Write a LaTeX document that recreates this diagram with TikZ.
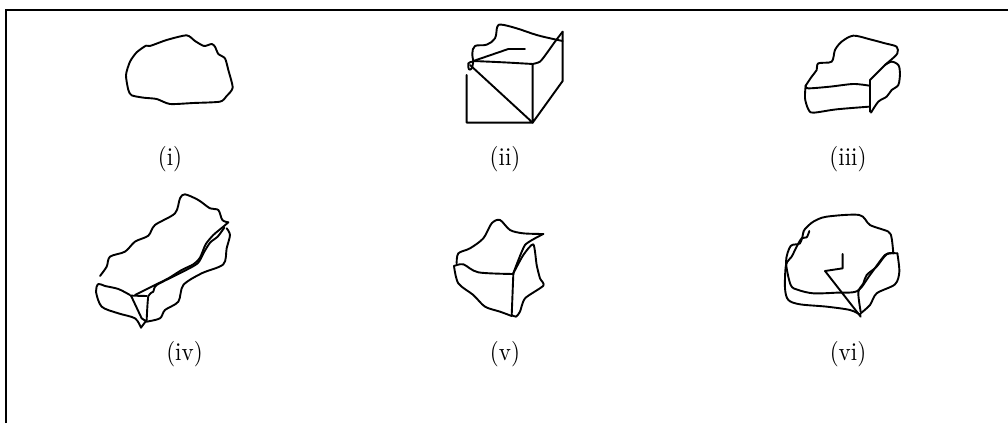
\documentclass[tikz,border=0pt]{standalone}
\begin{document}
\begin{tikzpicture}[x=1pt,y=-1pt,
  ink/.style={line width=1.9pt,line join=round,line cap=round,black},
  caplabel/.style={xscale=2.3,yscale=2.55,inner sep=0pt,anchor=center}]
\useasboundingbox (0,0) rectangle (1008,423);
\draw[line width=2pt] (6,423) -- (6,10) -- (1008,10);
% (i)
\begin{scope}[shift={(100,20)},x=0.3333pt,y=-0.3333pt]
\draw[ink] plot[smooth cycle,tension=0.4] coordinates {(260,46)(285,63)(312,78)(335,72)(345,80)(355,102)(375,115)(385,150)(398,203)(380,228)(360,245)(280,249)(210,252)(170,237)(130,233)(95,226)(85,210)(78,165)(90,125)(110,97)(138,77)(150,78)(200,60)};
\end{scope}
% (ii)
\begin{scope}[shift={(440,20)},x=0.3333pt,y=-0.3333pt]
\draw[ink] (80,165)--(80,308)--(278,308)--(90,135);
\draw[ink] (278,132)--(278,308)--(368,183)--(368,35);
\draw[ink] plot[smooth,tension=0.4] coordinates {(100,123)(190,127)(278,132)};
\draw[ink] (100,123)--(205,87)--(255,87);
\draw[ink] plot[smooth,tension=0.6] coordinates {(100,123)(97,100)(105,78)(140,74)(165,55)(172,20)(185,14)(230,25)(290,45)(340,57)(368,63)};
\draw[ink] plot[smooth,tension=0.6] coordinates {(97,125)(85,130)(87,148)(95,145)(100,125)};
\draw[ink] plot[smooth,tension=0.4] coordinates {(278,132)(300,125)(320,100)(345,65)(368,35)};
\end{scope}
% (iii)
\begin{scope}[shift={(770,20)},x=0.3333pt,y=-0.3333pt]
\draw[ink] plot[smooth,tension=0.5] coordinates {(107,197)(125,170)(140,150)(145,130)(185,125)(195,90)(215,65)(250,47)(300,58)(345,70)(380,80)(382,100)(365,118)(345,135)(300,180)};
\draw[ink] (300,180)--(300,275);
\draw[ink] plot[smooth,tension=0.5] coordinates {(107,197)(115,205)(180,200)(250,192)(298,197)};
\draw[ink] plot[smooth,tension=0.5] coordinates {(107,197)(105,235)(115,268)(130,278)(200,268)(298,260)};
\draw[ink] plot[smooth,tension=0.5] coordinates {(345,135)(365,125)(385,135)(390,160)(385,195)(365,210)(350,230)(325,245)(303,278)};
\end{scope}
% (iv)
\begin{scope}[shift={(85,185)},x=0.3333pt,y=-0.3333pt]
\draw[ink] plot[smooth,tension=0.5] coordinates {(45,273)(65,245)(75,215)(120,200)(150,170)(190,152)(210,120)(270,85)(285,40)(300,28)(340,45)(375,70)(400,75)(412,105)(430,112)};
\draw[ink] plot[smooth,tension=0.4] coordinates {(430,112)(415,125)(385,150)(362,178)(345,218)(325,238)(290,255)(250,280)(200,305)(150,330)};
\draw[ink] plot[smooth,tension=0.4] coordinates {(418,128)(398,155)(376,172)(358,200)(338,235)(290,262)(215,300)(205,320)(190,333)(185,405)};
\draw[ink] plot[smooth,tension=0.5] coordinates {(425,130)(435,150)(425,190)(415,238)(350,265)(295,300)(280,350)(240,375)(225,400)(185,410)};
\draw[ink] plot[smooth,tension=0.5] coordinates {(135,330)(100,312)(60,303)(40,297)(33,320)(50,365)(100,385)(150,400)(168,428)};
\draw[ink] (168,428)--(185,405);
\draw[ink] (138,332)--(185,333);
\draw[ink] (138,332)--(170,400)--(185,410);
\end{scope}
% (v)
\begin{scope}[shift={(430,205)},x=0.3333pt,y=-0.3333pt]
\draw[ink] plot[smooth,tension=0.5] coordinates {(80,175)(85,145)(120,130)(160,100)(185,55)(210,45)(240,75)(280,85)(340,87)};
\draw[ink] plot[smooth,tension=0.3] coordinates {(340,87)(285,120)(250,205)};
\draw[ink] plot[smooth,tension=0.5] coordinates {(72,183)(100,178)(145,202)(250,207)};
\draw[ink] plot[smooth,tension=0.5] coordinates {(72,183)(85,235)(130,270)(165,305)(210,320)(245,333)};
\draw[ink] (250,207)--(245,333);
\draw[ink] plot[smooth,tension=0.4] coordinates {(250,205)(280,150)(310,118)(320,180)(330,220)(340,242)(285,280)(270,320)(258,335)(245,330)};
\end{scope}
% (vi)
\begin{scope}[shift={(770,205)},x=0.3333pt,y=-0.3333pt]
\draw[ink] plot[smooth,tension=0.5] coordinates {(100,82)(105,72)(130,50)(170,35)(268,30)(300,60)(355,80)(365,100)(370,145)};
\draw[ink] plot[smooth,tension=0.5] coordinates {(100,82)(90,115)(62,123)(48,170)(62,240)(85,255)(130,265)(200,263)(262,258)(300,210)(345,150)(370,145)};
\draw[ink] plot[smooth,tension=0.5] coordinates {(118,78)(110,97)(95,100)(80,125)(65,155)(48,180)(45,250)(55,285)(90,298)(170,305)(240,315)(272,330)};
\draw[ink] (218,147)--(218,190)--(165,198)--(272,335);
\draw[ink] plot[smooth,tension=0.5] coordinates {(382,145)(350,148)(320,185)(290,210)(280,235)(265,262)(272,320)};
\draw[ink] plot[smooth,tension=0.5] coordinates {(382,145)(388,200)(375,238)(320,265)(300,300)(272,325)};
\end{scope}
% captions
\node[caplabel] (c1) at (170,159) {(i)};
\node[caplabel] (c2) at (505,159) {(ii)};
\node[caplabel] (c3) at (848,159) {(iii)};
\node[caplabel] (c4) at (184.5,354) {(iv)};
\node[caplabel] (c5) at (505,354) {(v)};
\node[caplabel] (c6) at (848,354) {(vi)};
\end{tikzpicture}
\end{document}
